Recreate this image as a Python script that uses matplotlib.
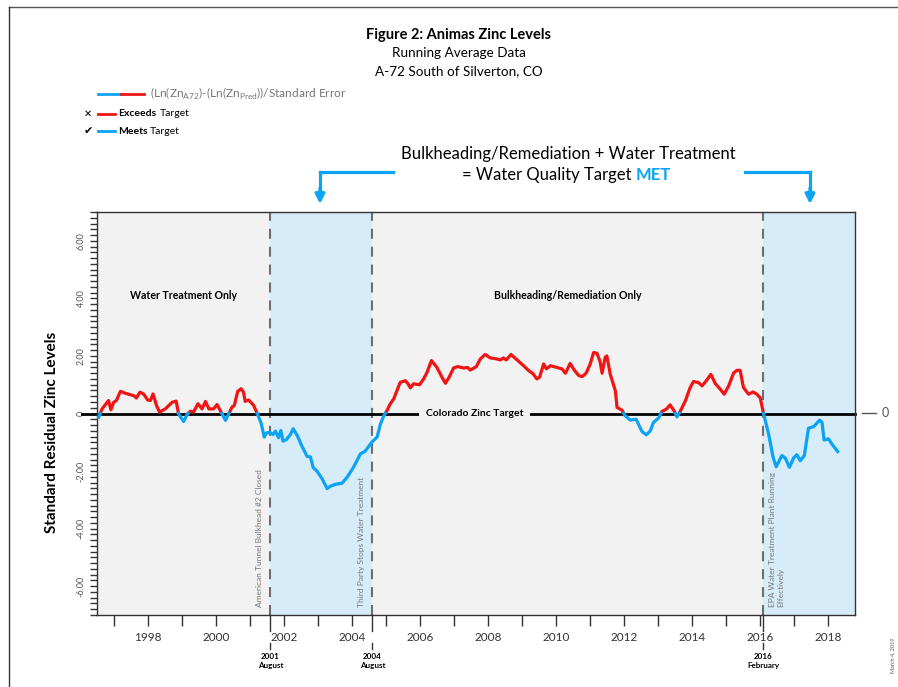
import numpy as np
import matplotlib
matplotlib.use("Agg")
import matplotlib.pyplot as plt
import matplotlib.transforms as mtransforms
from matplotlib.lines import Line2D

plt.rcParams['font.family'] = ['Lato', 'DejaVu Sans']

# running average data (standard residual)
years = [1996.55, 1996.65, 1996.80, 1996.84, 1996.91, 1996.99, 1997.07, 1997.19, 1997.34, 1997.58,
         1997.66, 1997.76, 1997.87, 1997.99, 1998.07, 1998.15, 1998.25, 1998.34, 1998.51, 1998.71,
         1998.83, 1998.90, 1999.05, 1999.15, 1999.25, 1999.34, 1999.47, 1999.59, 1999.69, 1999.79,
         1999.93, 2000.03, 2000.13, 2000.28, 2000.37, 2000.47, 2000.54, 2000.64, 2000.74, 2000.81,
         2000.86, 2000.96, 2001.11, 2001.21, 2001.33, 2001.42, 2001.48, 2001.58, 2001.68, 2001.75,
         2001.84, 2001.91, 2001.97, 2002.07, 2002.19, 2002.27, 2002.39, 2002.53, 2002.68, 2002.78,
         2002.86, 2002.97, 2003.12, 2003.27, 2003.36, 2003.51, 2003.71, 2003.86, 2004.05, 2004.25,
         2004.39, 2004.59, 2004.74, 2004.84, 2004.93, 2005.03, 2005.13, 2005.23, 2005.42, 2005.57,
         2005.64, 2005.72, 2005.81, 2005.99, 2006.11, 2006.21, 2006.34, 2006.50, 2006.65, 2006.75,
         2006.86, 2006.99, 2007.11, 2007.29, 2007.40, 2007.48, 2007.66, 2007.78, 2007.92, 2008.07,
         2008.25, 2008.36, 2008.46, 2008.54, 2008.68, 2008.86, 2009.05, 2009.20, 2009.33, 2009.44,
         2009.52, 2009.64, 2009.72, 2009.84, 2010.03, 2010.18, 2010.28, 2010.42, 2010.54, 2010.67,
         2010.77, 2010.89, 2011.01, 2011.11, 2011.21, 2011.30, 2011.36, 2011.45, 2011.50, 2011.60,
         2011.75, 2011.80, 2011.94, 2012.04, 2012.19, 2012.36, 2012.53, 2012.66, 2012.78, 2012.87,
         2013.02, 2013.12, 2013.25, 2013.36, 2013.48, 2013.56, 2013.64, 2013.81, 2013.95, 2014.05,
         2014.20, 2014.30, 2014.44, 2014.56, 2014.69, 2014.84, 2014.95, 2015.08, 2015.23, 2015.33,
         2015.42, 2015.52, 2015.67, 2015.80, 2015.91, 2016.01, 2016.11, 2016.26, 2016.39, 2016.48,
         2016.65, 2016.75, 2016.87, 2016.99, 2017.09, 2017.19, 2017.31, 2017.43, 2017.58, 2017.76,
         2017.83, 2017.89, 2018.02, 2018.12, 2018.29]
values = [-0.13, 0.16, 0.39, 0.45, 0.13, 0.39, 0.45, 0.77, 0.70, 0.62,
          0.54, 0.74, 0.68, 0.47, 0.45, 0.68, 0.28, 0.05, 0.16, 0.39,
          0.43, -0.02, -0.28, -0.03, 0.08, 0.05, 0.34, 0.16, 0.42, 0.16,
          0.16, 0.31, 0.10, -0.24, -0.03, 0.22, 0.28, 0.77, 0.86, 0.74,
          0.42, 0.47, 0.28, 0.01, -0.34, -0.82, -0.68, -0.65, -0.73, -0.61,
          -0.84, -0.59, -0.96, -0.91, -0.73, -0.53, -0.76, -1.14, -1.49, -1.51,
          -1.88, -2.00, -2.26, -2.61, -2.53, -2.46, -2.42, -2.21, -1.86, -1.40,
          -1.31, -0.99, -0.82, -0.36, -0.10, 0.10, 0.34, 0.51, 1.08, 1.14,
          1.05, 0.89, 1.03, 1.00, 1.20, 1.43, 1.84, 1.60, 1.26, 1.05,
          1.26, 1.58, 1.63, 1.58, 1.60, 1.51, 1.63, 1.90, 2.05, 1.93,
          1.90, 1.86, 1.93, 1.86, 2.05, 1.86, 1.66, 1.49, 1.38, 1.20,
          1.26, 1.72, 1.55, 1.66, 1.60, 1.55, 1.40, 1.74, 1.51, 1.32,
          1.28, 1.40, 1.72, 2.12, 2.09, 1.80, 1.40, 1.95, 2.00, 1.36,
          0.79, 0.21, 0.12, -0.08, -0.23, -0.20, -0.62, -0.74, -0.60, -0.31,
          -0.16, 0.07, 0.15, 0.30, 0.09, -0.12, 0.03, 0.44, 0.90, 1.11,
          1.07, 0.96, 1.16, 1.36, 1.04, 0.84, 0.67, 0.95, 1.41, 1.50,
          1.50, 0.90, 0.67, 0.75, 0.67, 0.55, 0.00, -0.72, -1.52, -1.85,
          -1.46, -1.55, -1.87, -1.55, -1.43, -1.64, -1.46, -0.51, -0.46, -0.23,
          -0.31, -0.92, -0.88, -1.06, -1.32]

target = 0
x_range = (1996.5, 2018.8)
events = [2001.6, 2004.6, 2016.1]
event_dates = ["2001\nAugust", "2004\nAugust", "2016\nFebruary"]
event_notes = ["American Tunnel Bulkhead #2 Closed", "Third Party Stops Water Treatment",
               "EPA Water Treatment Plant Running\nEffectively"]
phases = ["Water Treatment Only", "Bulkheading/Remediation Only"]

RED = '#f01414'
BLUE = '#0aa3f5'
GRAY_BG = '#f2f2f2'
BLUE_BG = '#d6ecf8'

W, H = 898, 687
def fx(px):
    return px / W
def fy(py):
    return 1 - py / H

fig = plt.figure(figsize=(W / 100, H / 100), dpi=100)
ax = fig.add_axes([fx(97), fy(615), fx(855) - fx(97), fy(212) - fy(615)])

# shaded periods
bounds = [x_range[0]] + events + [x_range[1]]
for i in range(len(bounds) - 1):
    ax.axvspan(bounds[i], bounds[i + 1], color=GRAY_BG if i % 2 == 0 else BLUE_BG, lw=0, zorder=0)
for e in events:
    ax.axvline(e, color='#6e6e6e', lw=1.5, linestyle=(0, (4.8, 3.8)), zorder=1)

# target line (extends a bit left of the axis)
trans = mtransforms.blended_transform_factory(ax.transAxes, ax.transData)
ax.plot([-0.02, 1.0], [target, target], color='black', lw=2, transform=trans, clip_on=False, zorder=2)
ax.text(2007.6, target, "Colorado Zinc Target", ha='center', va='center',
        fontsize=7.5, fontweight='bold', zorder=3,
        bbox=dict(facecolor=GRAY_BG, edgecolor='none', pad=5))

# data line coloured by sign, crossing points inserted
xs, ys = [years[0]], [values[0]]
for i in range(1, len(years)):
    y0, y1 = values[i - 1], values[i]
    if (y0 - target) * (y1 - target) < 0:
        t = (target - y0) / (y1 - y0)
        xs.append(years[i - 1] + t * (years[i] - years[i - 1]))
        ys.append(target)
    xs.append(years[i])
    ys.append(values[i])
xs = np.array(xs)
ys = np.array(ys)
ax.plot(xs, np.where(ys >= target, ys, np.nan), color=RED, lw=2.3, zorder=4, solid_joinstyle='round')
ax.plot(xs, np.where(ys <= target, ys, np.nan), color=BLUE, lw=2.3, zorder=4, solid_joinstyle='round')

# phase labels
ax.text((bounds[0] + bounds[1]) / 2, 4.1, phases[0], ha='center', va='center', fontsize=7.6, fontweight='bold')
ax.text((bounds[2] + bounds[3]) / 2, 4.1, phases[1], ha='center', va='center', fontsize=7.6, fontweight='bold')

# event notes
ax.text(events[0] - 0.32, -6.72, event_notes[0], rotation=90, ha='center', va='bottom', fontsize=6, color='#777777')
ax.text(events[1] - 0.32, -6.72, event_notes[1], rotation=90, ha='center', va='bottom', fontsize=6, color='#777777')
ax.text(events[2] + 0.18, -6.72, event_notes[2], rotation=90, ha='left', va='bottom', fontsize=6,
        color='#777777', multialignment='left')

ax.set_xlim(*x_range)
ax.set_ylim(-7, 7)

# axes styling
for s in ax.spines.values():
    s.set_color('#333333')
    s.set_linewidth(1)
ax.set_yticks([-6, -4, -2, 0, 2, 4, 6])
ax.set_yticklabels(['-6.00', '-4.00', '-2.00', '0', '2.00', '4.00', '6.00'], rotation=90, va='center',
                   fontsize=6.5, color='#555555')
ax.set_yticks(np.arange(-7, 7.01, 0.2), minor=True)
ax.tick_params(axis='y', which='both', length=5, width=1, color='#333333', pad=3)
ax.set_xticks(np.arange(1998, 2019, 2))
ax.set_xticklabels([str(y) for y in range(1998, 2019, 2)], fontsize=8.5, color='#333333')
ax.set_xticks(np.arange(1997, 2019, 2), minor=True)
ax.tick_params(axis='x', which='both', length=8, width=1, color='#333333', pad=4)

# event markers below axis
tx = mtransforms.blended_transform_factory(ax.transData, ax.transAxes)
for e, lab in zip(events, event_dates):
    ax.plot([e, e], [0, -0.04], color='#333333', lw=1, transform=tx, clip_on=False)
    ax.plot([e, e], [-0.069, -0.085], color='#333333', lw=1, transform=tx, clip_on=False)
    ax.text(e, -0.095, lab, transform=tx, ha='center', va='top', fontsize=5.8, fontweight='bold',
            linespacing=1.3)

# right-hand zero marker
fig.add_artist(Line2D([fx(862), fx(876)], [fy(413), fy(413)], color='#555555', lw=1))
fig.text(fx(882), fy(413), "0", ha='left', va='center', fontsize=9, color='#555555')

fig.text(fx(52), fy(432), "Standard Residual Zinc Levels", rotation=90, ha='center', va='center',
         fontsize=11, fontweight='bold')

# titles
fig.text(fx(459), fy(35), "Figure 2: Animas Zinc Levels", ha='center', va='center', fontsize=10.5, fontweight='bold')
fig.text(fx(459), fy(53), "Running Average Data", ha='center', va='center', fontsize=9.7)
fig.text(fx(459), fy(71), "A-72 South of Silverton, CO", ha='center', va='center', fontsize=9.7)

# legend
fig.add_artist(Line2D([fx(98), fx(121)], [fy(94), fy(94)], color=BLUE, lw=2))
fig.add_artist(Line2D([fx(121), fx(144)], [fy(94), fy(94)], color=RED, lw=2))
fig.text(fx(150), fy(94), r"(Ln(Zn$_{\mathregular{A72}}$)-(Ln(Zn$_{\mathregular{Pred}}$))/Standard Error",
         ha='left', va='center', fontsize=8.6, color='#777777')
fig.text(fx(88), fy(114), "\u2715", ha='center', va='center', fontsize=7, fontweight='bold',
         family=['DejaVu Sans'])
fig.add_artist(Line2D([fx(98), fx(115)], [fy(114), fy(114)], color=RED, lw=2))
fig.text(fx(118), fy(114), "Exceeds", ha='left', va='center', fontsize=7.5, fontweight='bold')
fig.text(fx(160), fy(114), "Target", ha='left', va='center', fontsize=7.5)
fig.text(fx(88), fy(131), "\u2714", ha='center', va='center', fontsize=8, family=['DejaVu Sans'])
fig.add_artist(Line2D([fx(98), fx(115)], [fy(131), fy(131)], color=BLUE, lw=2))
fig.text(fx(118), fy(131), "Meets", ha='left', va='center', fontsize=7.5, fontweight='bold')
fig.text(fx(150), fy(131), "Target", ha='left', va='center', fontsize=7.5)

# headline annotation with arrows
fig.text(fx(568), fy(154), "Bulkheading/Remediation + Water Treatment", ha='center', va='center', fontsize=12)
fig.text(fx(631), fy(175), "= Water Quality Target", ha='right', va='center', fontsize=12)
fig.text(fx(636), fy(175), "MET", ha='left', va='center', fontsize=12, fontweight='bold', color=BLUE)
for x0, x1 in [(393, 320), (745, 810)]:
    fig.add_artist(Line2D([fx(x0), fx(x1)], [fy(172), fy(172)], color=BLUE, lw=2.3,
                          solid_capstyle='projecting'))
    fig.add_artist(Line2D([fx(x1), fx(x1)], [fy(172), fy(192)], color=BLUE, lw=2.3))
    ax.annotate('', xy=(fx(x1), fy(204)), xytext=(fx(x1), fy(188)), xycoords='figure fraction',
                arrowprops=dict(arrowstyle='-|>', color=BLUE, lw=2.3, mutation_scale=14,
                                shrinkA=0, shrinkB=0))

fig.text(fx(893), fy(655), "March 4, 2019", rotation=90, ha='center', va='center', fontsize=4, color='#555555')

# page frame
fig.add_artist(Line2D([fx(9), fx(898)], [fy(7), fy(7)], color='#555555', lw=1))
fig.add_artist(Line2D([fx(9), fx(9)], [fy(7), fy(687)], color='#333333', lw=1))

fig.savefig('out.png', dpi=100)
